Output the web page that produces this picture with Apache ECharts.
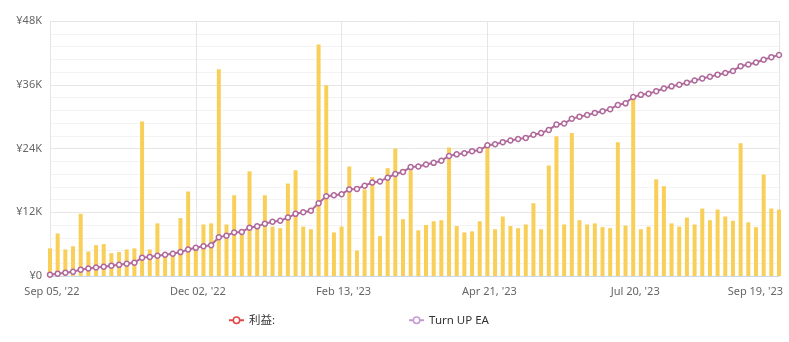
<!DOCTYPE html>
<html>
<head>
<meta charset="utf-8">
<script src="https://cdn.jsdelivr.net/npm/echarts@6/dist/echarts.min.js"></script>
<style>
  html, body { margin: 0; padding: 0; background: #fff; }
  #chart { width: 789px; height: 342px; }
</style>
</head>
<body>
<div id="chart"></div>
<script>
// Trading days shown on the category axis
const categories = [
  "Sep 05, '22", "Sep 09, '22", "Sep 14, '22", "Sep 19, '22", "Sep 23, '22", "Sep 28, '22", "Oct 03, '22", "Oct 07, '22",
  "Oct 12, '22", "Oct 17, '22", "Oct 21, '22", "Oct 26, '22", "Oct 31, '22", "Nov 04, '22", "Nov 09, '22", "Nov 14, '22",
  "Nov 18, '22", "Nov 23, '22", "Nov 28, '22", "Dec 02, '22",
  "Dec 06, '22", "Dec 09, '22", "Dec 13, '22", "Dec 16, '22", "Dec 20, '22", "Dec 23, '22", "Dec 28, '22", "Jan 02, '23",
  "Jan 05, '23", "Jan 10, '23", "Jan 13, '23", "Jan 17, '23", "Jan 20, '23", "Jan 24, '23", "Jan 27, '23", "Jan 31, '23",
  "Feb 03, '23", "Feb 08, '23", "Feb 13, '23",
  "Feb 16, '23", "Feb 20, '23", "Feb 23, '23", "Feb 27, '23", "Mar 02, '23", "Mar 06, '23", "Mar 09, '23", "Mar 13, '23",
  "Mar 16, '23", "Mar 20, '23", "Mar 23, '23", "Mar 27, '23", "Mar 30, '23", "Apr 03, '23", "Apr 06, '23", "Apr 11, '23",
  "Apr 14, '23", "Apr 18, '23", "Apr 21, '23",
  "Apr 26, '23", "May 01, '23", "May 05, '23", "May 10, '23", "May 15, '23", "May 19, '23", "May 24, '23", "May 29, '23",
  "Jun 02, '23", "Jun 07, '23", "Jun 12, '23", "Jun 16, '23", "Jun 21, '23", "Jun 26, '23", "Jun 30, '23", "Jul 05, '23",
  "Jul 10, '23", "Jul 14, '23", "Jul 20, '23",
  "Jul 24, '23", "Jul 27, '23", "Jul 31, '23", "Aug 03, '23", "Aug 07, '23", "Aug 09, '23", "Aug 14, '23", "Aug 16, '23",
  "Aug 21, '23", "Aug 23, '23", "Aug 28, '23", "Aug 30, '23", "Sep 04, '23", "Sep 06, '23", "Sep 08, '23", "Sep 11, '23",
  "Sep 13, '23", "Sep 15, '23", "Sep 19, '23"
];

// Daily amounts (yen)
const dailyValues = [
  5200, 8000, 5000, 5600, 11700, 4600, 5800, 6000, 4300, 4500, 5000, 5200, 29100, 5000, 9900, 4000,
  4200, 10900, 15900, 5200, 9700, 9900, 38900, 9700, 15200, 8000, 19700, 9000, 15200, 9300, 9000, 17400,
  19900, 9300, 8800, 43600, 35900, 8200, 9300, 20600, 4800, 16300, 18600, 7500, 20300, 24000, 10700, 19900,
  8600, 9600, 10300, 10500, 24200, 9400, 8200, 8400, 10300, 24700, 8800, 11200, 9400, 9000, 9700, 13700,
  8800, 20800, 26300, 9700, 26900, 10500, 9700, 9900, 9200, 9000, 25200, 9500, 33400, 8800, 9300, 18200,
  16900, 9900, 9300, 11000, 9700, 12700, 10500, 12500, 11200, 10400, 25000, 10100, 9200, 19100, 12700, 12500
];

// Turn UP EA running profit (yen)
const turnUpValues = [
  250, 440, 630, 800, 1200, 1400, 1600, 1750, 1950, 2100, 2300, 2500, 3450, 3600, 3800, 4000,
  4200, 4500, 5000, 5300, 5600, 5800, 7300, 7600, 8200, 8300, 9100, 9350, 9850, 10200, 10400, 11000,
  11700, 12000, 12300, 13700, 15000, 15200, 15400, 16300, 16400, 17000, 17600, 17800, 18500, 19200, 19600, 20500,
  20600, 21000, 21300, 21700, 22600, 22900, 23100, 23500, 23700, 24600, 24800, 25200, 25500, 25800, 26000, 26600,
  26900, 27500, 28500, 28700, 29600, 30000, 30300, 30700, 31000, 31400, 32200, 32500, 33700, 34100, 34300, 34800,
  35300, 35700, 36000, 36400, 36800, 37200, 37500, 37900, 38200, 38600, 39500, 39800, 40200, 40700, 41200, 41600
];

// Y axis tick labels
const yTickLabels = { 0: '¥0', 12000: '¥12K', 24000: '¥24K', 36000: '¥36K', 48000: '¥48K' };

const FONT = "'Noto Sans', 'Noto Sans CJK JP', sans-serif";
const LINE_COLOR = '#b0689b';

const chart = echarts.init(document.getElementById('chart'), null, { renderer: 'canvas' });

chart.setOption({
  animation: false,
  textStyle: { fontFamily: FONT },
  grid: { left: 50, right: 10, top: 21, bottom: 66, containLabel: false, outerBoundsMode: 'none' },
  legend: {
    bottom: 11,
    left: 223,
    itemGap: 133,
    itemWidth: 15,
    itemHeight: 8,
    textStyle: { color: '#333', fontSize: 11.5, fontFamily: FONT },
    data: [
      { name: '利益:', itemStyle: { color: '#fff', borderColor: '#e0484a', borderWidth: 1.5 }, lineStyle: { color: '#e0484a', width: 2 } },
      { name: 'Turn UP EA', itemStyle: { color: '#fff', borderColor: '#c49ad2', borderWidth: 1.5 }, lineStyle: { color: '#c49ad2', width: 2 } }
    ]
  },
  xAxis: {
    type: 'category',
    data: categories,
    boundaryGap: false,
    axisLine: { show: true, lineStyle: { color: '#ccd6eb', width: 1 } },
    axisTick: { show: false },
    axisLabel: {
      interval: 18, color: '#666', fontSize: 11, margin: 10, fontFamily: FONT,
      alignMaxLabel: 'right', padding: [0, -4, 0, 0]
    },
    splitLine: { show: true, interval: 18, lineStyle: { color: '#e6e6e6', width: 1 } }
  },
  yAxis: {
    type: 'value',
    min: 0,
    max: 48000,
    interval: 12000,
    axisLine: { show: false },
    axisTick: { show: false },
    axisLabel: {
      color: '#666', fontSize: 11, margin: 8, fontFamily: FONT,
      formatter: v => yTickLabels[v] !== undefined ? yTickLabels[v] : ''
    },
    splitLine: { show: true, lineStyle: { color: '#e6e6e6', width: 1 } },
    minorTick: { show: false, splitNumber: 5 },
    minorSplitLine: { show: true, lineStyle: { color: '#f3f3f3', width: 1 } }
  },
  series: [
    {
      name: '日次',
      type: 'bar',
      data: dailyValues,
      barWidth: 4,
      clip: false,
      itemStyle: { color: '#f8cf58' },
      z: 2
    },
    {
      name: '利益:',
      type: 'line',
      data: [],
      symbol: 'circle',
      symbolSize: 5,
      itemStyle: { color: '#fff', borderColor: '#e0484a', borderWidth: 1.5 },
      lineStyle: { color: '#e0484a', width: 2 }
    },
    {
      name: 'Turn UP EA',
      type: 'line',
      data: turnUpValues,
      symbol: 'circle',
      symbolSize: 5,
      showAllSymbol: true,
      clip: false,
      itemStyle: { color: '#fff', borderColor: LINE_COLOR, borderWidth: 1.5 },
      lineStyle: { color: LINE_COLOR, width: 2 },
      z: 5
    }
  ]
});
</script>
</body>
</html>
